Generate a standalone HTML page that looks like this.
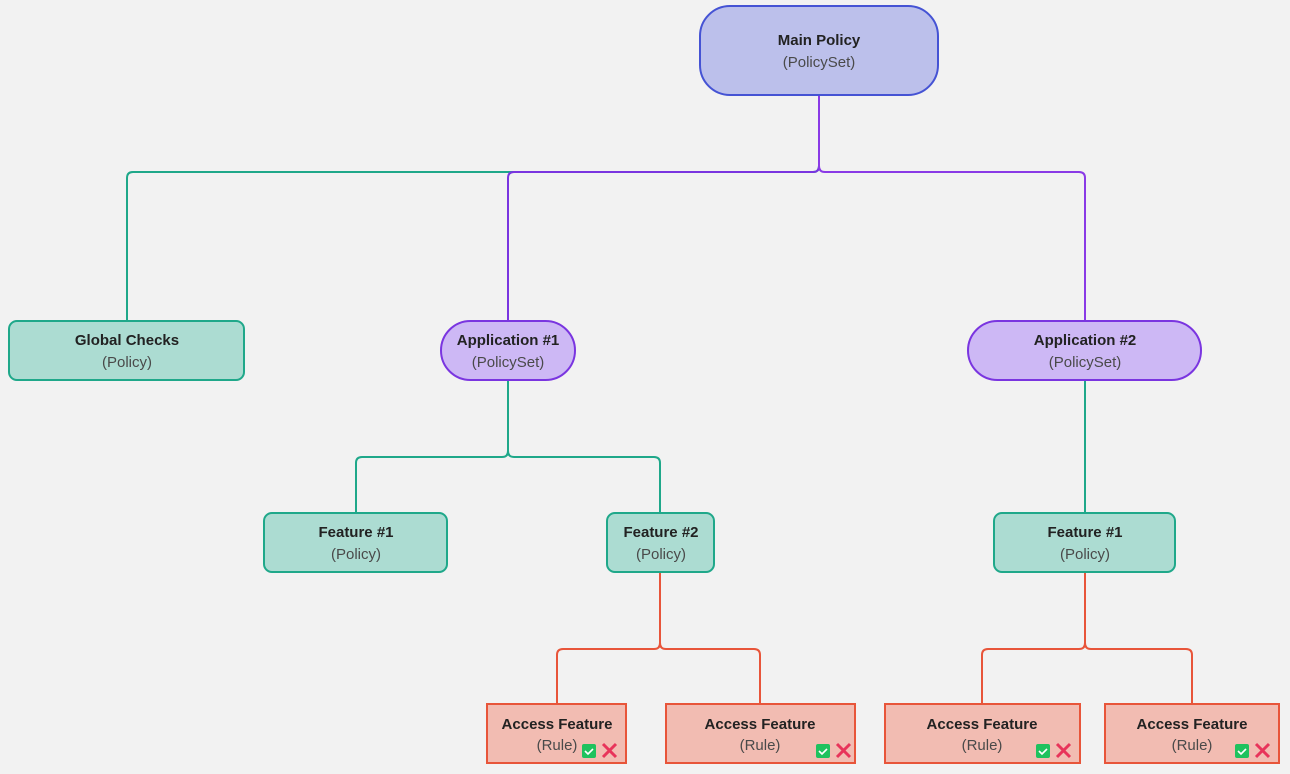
<!DOCTYPE html>
<html><head><meta charset="utf-8">
<style>
html,body{margin:0;padding:0;background:#f2f2f2;}
svg{display:block;}
text{font-family:"Liberation Sans",sans-serif;font-size:15px;text-anchor:middle;}
.t{font-weight:bold;fill:#222;}
.s{fill:#4a4a4a;}
</style></head>
<body>
<svg width="1290" height="774" viewBox="0 0 1290 774" xmlns="http://www.w3.org/2000/svg">
<rect width="1290" height="774" fill="#f2f2f2"/>
<g fill="none" stroke-width="2" stroke-linejoin="round">
  <!-- teal main -> global -->
  <path d="M819 95 V166 Q819 172 813 172 H133 Q127 172 127 178 V321" stroke="#1fa88a"/>
  <!-- purple main -> apps -->
  <path d="M819 95 V166 Q819 172 813 172 H514 Q508 172 508 178 V321" stroke="#7a35e0"/>
  <path d="M819 95 V166 Q819 172 825 172 H1079 Q1085 172 1085 178 V321" stroke="#8a3ae6"/>
  <!-- app1 -> features -->
  <path d="M508 380 V451 Q508 457 502 457 H362 Q356 457 356 463 V513" stroke="#1fa88a"/>
  <path d="M508 380 V451 Q508 457 514 457 H654 Q660 457 660 463 V513" stroke="#1fa88a"/>
  <!-- app2 -> feature -->
  <path d="M1085 380 V513" stroke="#1fa88a"/>
  <!-- feature2 -> rules -->
  <path d="M660 572 V643 Q660 649 654 649 H563 Q557 649 557 655 V704" stroke="#e8553a"/>
  <path d="M660 572 V643 Q660 649 666 649 H754 Q760 649 760 655 V704" stroke="#e8553a"/>
  <!-- feature1 right -> rules -->
  <path d="M1085 572 V643 Q1085 649 1079 649 H988 Q982 649 982 655 V704" stroke="#e8553a"/>
  <path d="M1085 572 V643 Q1085 649 1091 649 H1186 Q1192 649 1192 655 V704" stroke="#e8553a"/>
</g>

<!-- Main Policy -->
<rect x="700" y="6" width="238" height="89" rx="30" fill="#bcc0eb" stroke="#4553d4" stroke-width="2"/>
<text class="t" x="819" y="45">Main Policy</text>
<text class="s" x="819" y="67">(PolicySet)</text>

<!-- Global Checks -->
<rect x="9" y="321" width="235" height="59" rx="8" fill="#acdcd2" stroke="#1fa88a" stroke-width="2"/>
<text class="t" x="127" y="345">Global Checks</text>
<text class="s" x="127" y="367">(Policy)</text>

<!-- Application #1 -->
<rect x="441" y="321" width="134" height="59" rx="29.5" fill="#cdb8f5" stroke="#7a35e0" stroke-width="2"/>
<text class="t" x="508" y="345">Application #1</text>
<text class="s" x="508" y="367">(PolicySet)</text>

<!-- Application #2 -->
<rect x="968" y="321" width="233" height="59" rx="29.5" fill="#cdb8f5" stroke="#7a35e0" stroke-width="2"/>
<text class="t" x="1085" y="345">Application #2</text>
<text class="s" x="1085" y="367">(PolicySet)</text>

<!-- Feature #1 left -->
<rect x="264" y="513" width="183" height="59" rx="8" fill="#acdcd2" stroke="#1fa88a" stroke-width="2"/>
<text class="t" x="356" y="537">Feature #1</text>
<text class="s" x="356" y="559">(Policy)</text>

<!-- Feature #2 -->
<rect x="607" y="513" width="107" height="59" rx="8" fill="#acdcd2" stroke="#1fa88a" stroke-width="2"/>
<text class="t" x="661" y="537">Feature #2</text>
<text class="s" x="661" y="559">(Policy)</text>

<!-- Feature #1 right -->
<rect x="994" y="513" width="181" height="59" rx="8" fill="#acdcd2" stroke="#1fa88a" stroke-width="2"/>
<text class="t" x="1085" y="537">Feature #1</text>
<text class="s" x="1085" y="559">(Policy)</text>

<!-- Rules -->
<g>
<rect x="487" y="704" width="139" height="59" fill="#f2bcb2" stroke="#e8553a" stroke-width="2"/>
<text class="t" x="557" y="729">Access Feature</text>
<text class="s" x="557" y="750">(Rule)</text>
<rect x="582" y="744" width="14" height="14" rx="2" fill="#1fc25e"/>
<path d="M585 751 l3 3 l5 -5" fill="none" stroke="#fff" stroke-width="1.6"/>
<path d="M603 744 l13 13 M616 744 l-13 13" stroke="#e8345a" stroke-width="3"/>
</g>
<g>
<rect x="666" y="704" width="189" height="59" fill="#f2bcb2" stroke="#e8553a" stroke-width="2"/>
<text class="t" x="760" y="729">Access Feature</text>
<text class="s" x="760" y="750">(Rule)</text>
<rect x="816" y="744" width="14" height="14" rx="2" fill="#1fc25e"/>
<path d="M819 751 l3 3 l5 -5" fill="none" stroke="#fff" stroke-width="1.6"/>
<path d="M837 744 l13 13 M850 744 l-13 13" stroke="#e8345a" stroke-width="3"/>
</g>
<g>
<rect x="885" y="704" width="195" height="59" fill="#f2bcb2" stroke="#e8553a" stroke-width="2"/>
<text class="t" x="982" y="729">Access Feature</text>
<text class="s" x="982" y="750">(Rule)</text>
<rect x="1036" y="744" width="14" height="14" rx="2" fill="#1fc25e"/>
<path d="M1039 751 l3 3 l5 -5" fill="none" stroke="#fff" stroke-width="1.6"/>
<path d="M1057 744 l13 13 M1070 744 l-13 13" stroke="#e8345a" stroke-width="3"/>
</g>
<g>
<rect x="1105" y="704" width="174" height="59" fill="#f2bcb2" stroke="#e8553a" stroke-width="2"/>
<text class="t" x="1192" y="729">Access Feature</text>
<text class="s" x="1192" y="750">(Rule)</text>
<rect x="1235" y="744" width="14" height="14" rx="2" fill="#1fc25e"/>
<path d="M1238 751 l3 3 l5 -5" fill="none" stroke="#fff" stroke-width="1.6"/>
<path d="M1256 744 l13 13 M1269 744 l-13 13" stroke="#e8345a" stroke-width="3"/>
</g>
</svg>
</body></html>
